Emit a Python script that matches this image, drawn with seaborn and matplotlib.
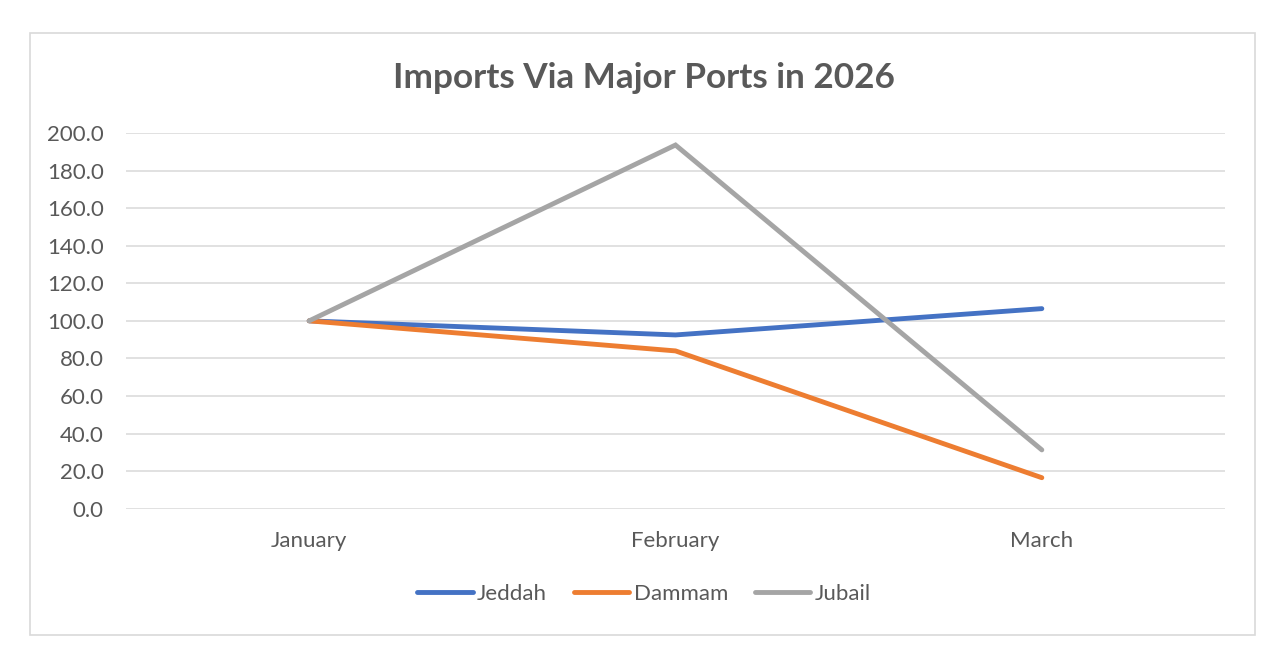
import pandas as pd
import matplotlib
matplotlib.use("Agg")
import matplotlib.pyplot as plt
import seaborn as sns
from matplotlib.patches import Rectangle

months = ["January", "February", "March"]
jeddah = [100.0, 92.5, 106.5]
dammam = [100.0, 84.0, 16.5]
jubail = [100.0, 193.6, 31.3]
ports = ["Jeddah", "Dammam", "Jubail"]
colors = ["#4472C4", "#ED7D31", "#A5A5A5"]
y_ticks = [0, 20, 40, 60, 80, 100, 120, 140, 160, 180, 200]

sns.set_theme(style="white")
plt.rcParams["font.family"] = ["Lato", "DejaVu Sans"]
text_color = "#595959"

rows = []
for port, vals in zip(ports, [jeddah, dammam, jubail]):
    for m, v in zip(months, vals):
        rows.append({"Month": m, "Port": port, "Value": v})
df = pd.DataFrame(rows)

fig = plt.figure(figsize=(12.88, 6.5), dpi=100)
ax = fig.add_axes([126 / 1288, 1 - 508.7 / 650, (1225 - 126) / 1288, (508.7 - 133) / 650])

# outer chart border
fig.patches.append(Rectangle((30 / 1288, 1 - 635 / 650), 1225 / 1288, 602 / 650,
                             transform=fig.transFigure, fill=False,
                             edgecolor="#D9D9D9", linewidth=1.2))

sns.lineplot(data=df, x="Month", y="Value", hue="Port", hue_order=ports,
             palette=colors, linewidth=3.5, ax=ax, sort=False,
             solid_capstyle="round", solid_joinstyle="miter")

ax.set_xlim(-0.5, 2.5)
ax.set_ylim(0, 200)
ax.set_yticks(y_ticks)
ax.set_yticklabels([f"{t:.1f}" for t in y_ticks])
ax.yaxis.grid(True, color="#D9D9D9", linewidth=1.1)
ax.set_axisbelow(True)
for s in ax.spines.values():
    s.set_visible(False)
ax.tick_params(axis="y", length=0, pad=16, labelsize=16, labelcolor=text_color)
ax.tick_params(axis="x", length=0, pad=16, labelsize=16, labelcolor=text_color)
ax.set_xlabel("")
ax.set_ylabel("")

fig.text(0.5, 1 - 78 / 650, "Imports Via Major Ports in 2026", ha="center", va="center",
         fontsize=25.3, fontweight="bold", color=text_color)

handles, labels = ax.get_legend_handles_labels()
ax.legend_.remove()
for h in handles:
    h.set_solid_capstyle("round")
leg = fig.legend(handles, labels, loc="center", bbox_to_anchor=(0.5, 1 - 594 / 650),
                 ncol=3, frameon=False, fontsize=16, handlelength=2.5,
                 handletextpad=0.2, columnspacing=1.2)
for t in leg.get_texts():
    t.set_color(text_color)

fig.savefig("out.png", dpi=100, facecolor="white")
